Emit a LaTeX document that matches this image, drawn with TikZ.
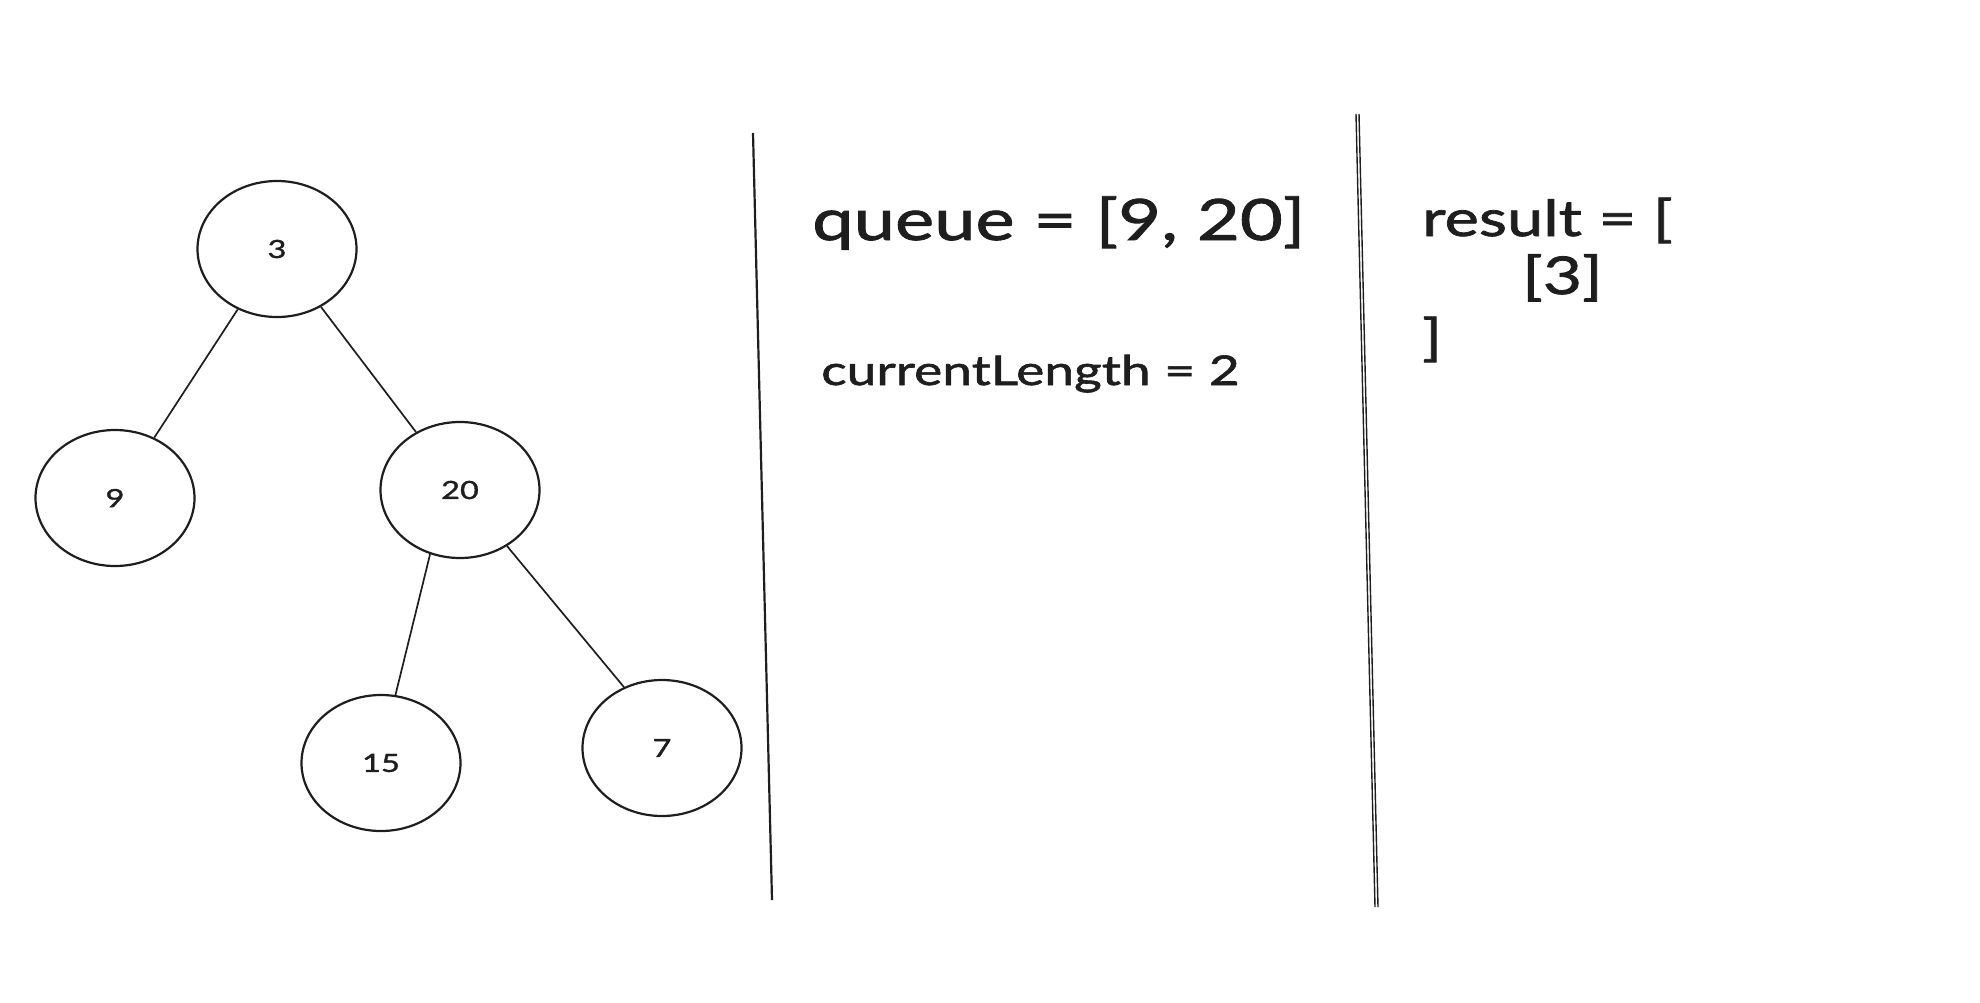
\documentclass[tikz,border=0pt]{standalone}
\usepackage{fontspec}
\setmainfont{Lato}
\newfontfamily\handfont[FakeStretch=1.3,FakeBold=1.5]{Lato}
\usepackage{xcolor}
\usetikzlibrary{shapes.geometric}
\definecolor{Ink}{HTML}{1E1E1E}

\tikzset{
  treenode/.style={draw=Ink,line width=2.2pt,ellipse,minimum width=159pt,
    minimum height=136pt,inner sep=0pt,text=Ink,font=\handfont\fontsize{25}{25}\selectfont},
  treeedge/.style={draw=Ink,line width=1.7pt},
  divider/.style={draw=Ink,line width=2.2pt},
  codetext/.style={anchor=base west,inner sep=0pt,text=Ink}
}

\begin{document}
\begin{tikzpicture}[x=1pt,y=-1pt]
  \useasboundingbox (0,0) rectangle (1980,1002);

  % Tree
  \node[treenode] (n3) at (277,249) {3};
  \node[treenode] (n9) at (115,498) {9};
  \node[treenode] (n20) at (460,490) {20};
  \node[treenode] (n15) at (381,763) {15};
  \node[treenode] (n7) at (662,748) {7};

  \draw[treeedge] (n3) -- (n9);
  \draw[treeedge] (n3) -- (n20);
  \draw[treeedge] (n20.245) -- (n15.78);
  \draw[treeedge] (n20.310) -- (n7.122);

  % Dividers
  \coordinate (d1top) at (753,133);
  \coordinate (d1bot) at (772,900);
  \draw[divider] (d1top) -- (d1bot);

  \coordinate (d2top) at (1356,114);
  \coordinate (d2bot) at (1375,907);
  \draw[divider,line width=1.4pt] (d2top) -- (d2bot);
  \draw[divider,line width=1.4pt] ([xshift=3pt]d2top) -- ([xshift=3pt]d2bot);

  % Queue
  \node[codetext,font=\handfont\fontsize{57}{57}\selectfont] (queue) at (812,240) {queue = [9, 20]};
  \node[codetext,font=\handfont\fontsize{41}{41}\selectfont] (curlen) at (821,385) {currentLength = 2};

  % Result
  \node[codetext,font=\handfont\fontsize{50}{50}\selectfont] (res) at (1422,236) {result = [};
  \node[codetext,font=\handfont\fontsize{52}{52}\selectfont] (res3) at (1522,294) {[3]};
  \node[codetext,font=\handfont\fontsize{50}{50}\selectfont] (resend) at (1422,355) {]};
\end{tikzpicture}
\end{document}
